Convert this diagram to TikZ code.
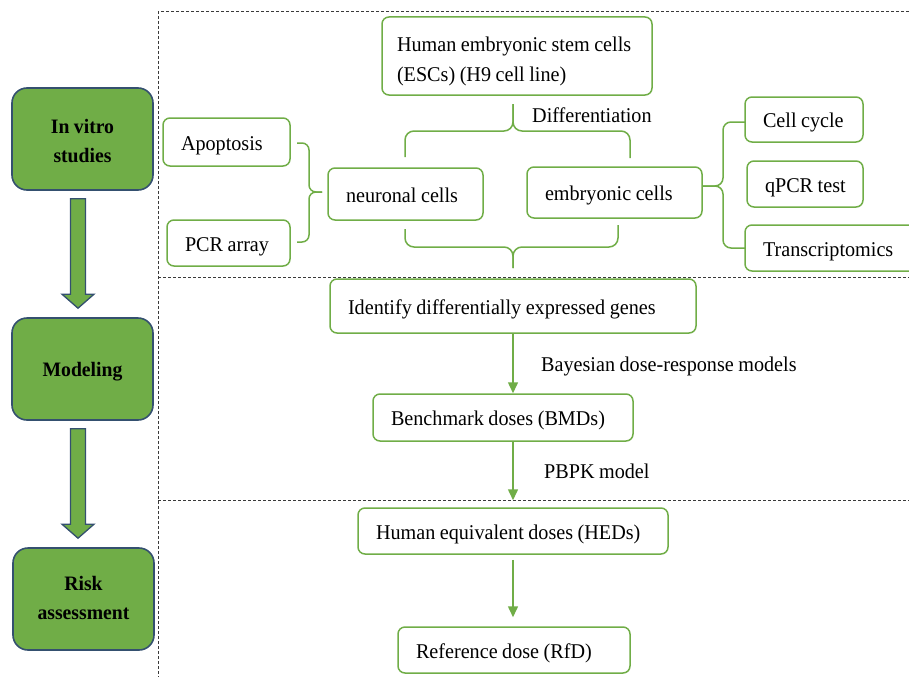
\documentclass[tikz,border=0pt]{standalone}
\usepackage{fontspec}
\setmainfont{Liberation Serif}[FakeStretch=0.96, WordSpace=0.9]
\usetikzlibrary{arrows.meta,calc}
\definecolor{lgreen}{HTML}{70AD47}
\definecolor{bgreen}{HTML}{70AD47}
\definecolor{navy}{HTML}{34506F}
\definecolor{dgray}{HTML}{3A3A3A}
\newcommand\boxtext[2]{\makebox[#1][l]{#2}}
\begin{document}
\begin{tikzpicture}[x=1pt,y=-1pt,
  gbox/.style={draw=lgreen, line width=1.5pt, rounded corners=7pt, inner xsep=18pt, inner ysep=0pt,
    text height=16pt, text depth=0pt, font=\fontsize{21}{30}\selectfont},
  stage/.style={fill=bgreen, draw=navy, line width=1.6pt, rounded corners=15pt, minimum width=141pt,
    minimum height=102pt, inner sep=0pt, text height=16pt, font=\bfseries\fontsize{20.5}{29.5}\selectfont},
  gline/.style={draw=lgreen, line width=1.5pt},
  garrow/.style={draw=lgreen, line width=1.5pt, -{Triangle[width=10pt,length=11pt]}},
  lbl/.style={anchor=base west, inner sep=0pt, font=\fontsize{21}{24}\selectfont},
  sep/.style={draw=dgray, line width=1pt, dash pattern=on 3pt off 2pt},
  barrow/.style={fill=bgreen, draw=navy, line width=1.3pt, line join=miter}
]
\useasboundingbox (0,0) rectangle (909,677);

% dashed frame
\draw[sep] (909,12) -- (158,12) -- (158,677);
\draw[sep] (158,277) -- (909,277);
\draw[sep] (158,500) -- (909,500);

% stage boxes
\node[stage, text depth=28pt] (invitro) at (82.5,139) {\parbox[t]{135pt}{\centering In vitro\\studies}};
\node[stage, text depth=2pt] (model) at (82.5,369) {Modeling};
\node[stage, text depth=34pt] (risk) at (83.5,599) {\parbox[t]{135pt}{\centering Risk\\assessment}};

% block arrows
\newcommand\blockarr[2]{%
  \draw[barrow] let \p1=(#1.south), \p2=(#2.north) in
    (\x1-12pt,\y1-8pt) -- (\x1+3pt,\y1-8pt) -- (\x1+3pt,\y2+23pt) -- (\x1+11.5pt,\y2+23pt)
    -- (\x1-4.5pt,\y2+9pt) -- (\x1-20.5pt,\y2+23pt) -- (\x1-12pt,\y2+23pt) -- cycle;}
\blockarr{invitro}{model}
\blockarr{model}{risk}

% green boxes
\node[gbox, inner xsep=15pt, text depth=24pt, minimum height=78pt] (esc) at (517,56)
  {\parbox[t]{240pt}{\raggedright Human embryonic stem cells\\(ESCs) (H9 cell line)}};
\node[gbox, minimum height=48pt] (apop) at (226.5,142) {\boxtext{91pt}{Apoptosis}};
\node[gbox, minimum height=46pt] (pcr) at (228.5,243) {\boxtext{87pt}{PCR array}};
\node[gbox, minimum height=52pt] (neur) at (405.5,194) {\boxtext{119pt}{neuronal cells}};
\node[gbox, minimum height=51pt] (emb) at (614.5,192.5) {\boxtext{139pt}{embryonic cells}};
\node[gbox, minimum height=45pt] (cc) at (804,119.5) {\boxtext{82pt}{Cell cycle}};
\node[gbox, minimum height=46pt] (qpcr) at (805,184) {\boxtext{80pt}{qPCR test}};
\node[gbox, minimum height=46pt] (trans) at (837.5,248) {\boxtext{149pt}{Transcriptomics}};
\node[gbox, minimum height=54pt] (ident) at (513,306) {\boxtext{330pt}{Identify differentially expressed genes}};
\node[gbox, minimum height=47pt] (bmd) at (503,417.5) {\boxtext{224pt}{Benchmark doses (BMDs)}};
\node[gbox, minimum height=46pt] (hed) at (513,531) {\boxtext{274pt}{Human equivalent doses (HEDs)}};
\node[gbox, minimum height=46pt] (rfd) at (514,650) {\boxtext{196pt}{Reference dose (RfD)}};

% labels
\node[lbl] (diff) at (532,122) {Differentiation};
\node[lbl] (bayes) at (541,371) {Bayesian dose-response models};
\node[lbl] (pbpk) at (544,478) {PBPK model};

% braces
\coordinate (tb-tip) at (513,104);
\coordinate (tb-mid) at (513,131);
\draw[gline, rounded corners=9pt] (405,157) |- (tb-mid) -- (tb-tip);
\draw[gline, rounded corners=9pt] (630,158) |- (tb-mid) -- (tb-tip);

\coordinate (bb-tip) at (513,268);
\coordinate (bb-mid) at (513,247);
\draw[gline, rounded corners=9pt] (405,229) |- (bb-mid) -- (bb-tip);
\draw[gline, rounded corners=9pt] (618,225) |- (bb-mid) -- (bb-tip);

\coordinate (lb-tip) at (322,192);
\coordinate (lb-mid) at (309,192);
\draw[gline, rounded corners=7pt] (297,143) -| (lb-mid) -- (lb-tip);
\draw[gline, rounded corners=7pt] (297,242) -| (lb-mid) -- (lb-tip);

\coordinate (rb-tip) at (703,186);
\coordinate (rb-mid) at (723,186);
\draw[gline, rounded corners=8pt] (745,122) -| (rb-mid) -- (rb-tip);
\draw[gline, rounded corners=8pt] (745,248) -| (rb-mid) -- (rb-tip);

% arrows
\draw[garrow] (ident.south) -- (ident.south |- bmd.north);
\draw[garrow, shorten >=7pt] (hed.north |- bmd.south) -- (hed.north);
\draw[garrow, shorten <=5pt, shorten >=9pt] (hed.south) -- (rfd.north -| hed.south);
\end{tikzpicture}
\end{document}
